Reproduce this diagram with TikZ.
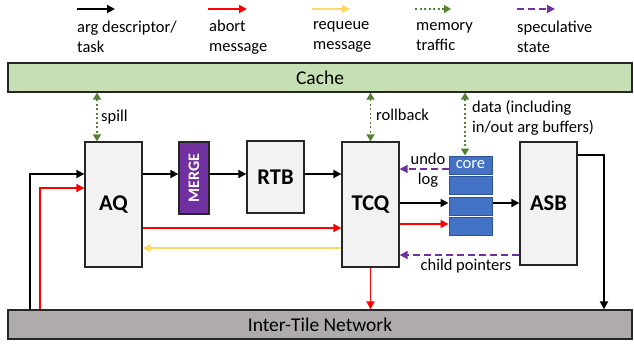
\documentclass[tikz,border=0pt]{standalone}
\usepackage{fontspec}
\setmainfont{Carlito}
\usetikzlibrary{arrows.meta}
\definecolor{cachegreen}{HTML}{C5E0B4}
\definecolor{netgray}{HTML}{AFABAB}
\definecolor{boxgray}{HTML}{F2F2F2}
\definecolor{mpurple}{HTML}{7030A0}
\definecolor{coreblue}{HTML}{4472C4}
\definecolor{coreedge}{HTML}{2F5597}
\definecolor{ayellow}{HTML}{FFD966}
\definecolor{agreen}{HTML}{548235}
\definecolor{ared}{HTML}{FF0000}
\begin{document}
\begin{tikzpicture}[x=1pt,y=-1pt,
  font=\fontsize{16.5}{19}\selectfont,
  box/.style={draw=black!85,line width=1.3pt,fill=boxgray,inner sep=0pt},
  big/.style={font=\fontsize{22.5}{24}\selectfont\bfseries},
  bar/.style={draw=black!85,line width=1.3pt,inner sep=0pt,minimum width=624pt,minimum height=29pt,font=\fontsize{19.5}{22}\selectfont},
  corebox/.style={draw=coreedge,line width=1pt,fill=coreblue,inner sep=0pt,minimum width=43pt,minimum height=18pt,text=white},
  tip/.style={-{Triangle[length=8pt,width=8pt]}},
  blk/.style={tip,line width=1.8pt,black},
  abortarr/.style={tip,line width=1.8pt,ared},
  requeuearr/.style={tip,line width=1.8pt,ayellow},
  memarr/.style={{Triangle[length=7pt,width=8pt]}-{Triangle[length=7pt,width=8pt]},line width=1.8pt,agreen,dash pattern=on 2pt off 2.5pt},
  memone/.style={-{Triangle[length=7pt,width=8pt]},line width=1.8pt,agreen,dash pattern=on 2pt off 2.5pt},
  specarr/.style={tip,line width=1.8pt,mpurple,dash pattern=on 7pt off 4pt},
  txt/.style={inner sep=0pt},
  legtxt/.style={inner sep=0pt,anchor=west,align=left,font=\fontsize{16.5}{20}\selectfont}
]
\useasboundingbox (0,0) rectangle (634,343);

% bars
\node[bar,fill=cachegreen] (cache) at (320,77.5) {Cache};
\node[bar,fill=netgray] (net) at (320,324.5) {Inter-Tile Network};

% boxes
\node[box,minimum width=57pt,minimum height=125pt,big] (aq) at (113.5,204.5) {AQ};
\node[draw=black!85,line width=1.3pt,fill=mpurple,inner sep=0pt,minimum width=30pt,minimum height=72pt] (merge) at (194,178) {};
\node[text=white,font=\fontsize{16}{17}\selectfont\bfseries,rotate=90,inner sep=0pt] (mergetxt) at (merge.center) {MERGE};
\node[box,minimum width=57pt,minimum height=72pt,big] (rtb) at (275.5,177) {RTB};
\node[box,minimum width=57pt,minimum height=125pt,big] (tcq) at (370.5,204.5) {TCQ};
\node[box,minimum width=57pt,minimum height=123pt,big] (asb) at (548.5,203.5) {ASB};

% cores
\node[corebox] (c1) at (470.5,165) {core};
\node[corebox] (c2) at (470.5,185) {};
\node[corebox] (c3) at (470.5,206) {};
\node[corebox] (c4) at (470.5,226) {};

% black arrows
\draw[blk] (net.north -| 30,0) |- (aq.west |- 0,174);
\draw[blk] (aq.east |- 0,174) -- (merge.west |- 0,174);
\draw[blk] (merge.east |- 0,174) -- (rtb.west |- 0,174);
\draw[blk] (rtb.east |- 0,174) -- (tcq.west |- 0,174);
\draw[blk] (tcq.east |- 0,203) -- (c3.west |- 0,203);
\draw[blk] (c3.east |- 0,203) -- (asb.west |- 0,203);
\draw[blk] (asb.east |- 0,155) -| (net.north -| 604,0);

% red arrows
\draw[abortarr] (net.north -| 40,0) |- (aq.west |- 0,188);
\draw[abortarr] (aq.east |- 0,228) -- (tcq.west |- 0,228);
\draw[abortarr] (tcq.east |- 0,224) -- (c4.west |- 0,224);
\draw[abortarr] (tcq.south) -- (tcq.south |- net.north);

% yellow
\draw[requeuearr] (tcq.west |- 0,248) -- (aq.east |- 0,248);

% purple
\draw[specarr] (c1.west |- 0,169) -- (tcq.east |- 0,169);
\draw[specarr] (asb.west |- 0,255) -- (tcq.east |- 0,255);

% green
\draw[memarr] (cache.south -| 97,0) -- (aq.north -| 97,0);
\draw[memarr] (cache.south -| tcq.north) -- (tcq.north);
\draw[memarr] (cache.south -| 465,0) -- (c1.north -| 465,0);

% labels
\node[txt,anchor=west] (spill) at (101,117) {spill};
\node[txt,anchor=west] (rollback) at (376,115) {rollback};
\node[txt,anchor=west,align=left,font=\fontsize{16.5}{19.5}\selectfont] (data) at (472,118) {data (including\\in/out arg buffers)};
\node[txt] (undo) at (428,159) {undo};
\node[txt] (log) at (428,180) {log};
\node[txt] (child) at (466,266) {child pointers};

% legend
\coordinate (l1a) at (77,9);  \coordinate (l1b) at (115,9);
\coordinate (l2a) at (208,9); \coordinate (l2b) at (247,9);
\coordinate (l3a) at (312,9); \coordinate (l3b) at (350,9);
\coordinate (l4a) at (415,9); \coordinate (l4b) at (451,9);
\coordinate (l5a) at (517,9); \coordinate (l5b) at (555,9);
\draw[blk] (l1a) -- (l1b);
\draw[abortarr] (l2a) -- (l2b);
\draw[requeuearr] (l3a) -- (l3b);
\draw[memone] (l4a) -- (l4b);
\draw[specarr] (l5a) -- (l5b);
\node[legtxt] (t1) at (77,37) {arg descriptor/\\task};
\node[legtxt] (t2) at (209,37) {abort\\message};
\node[legtxt] (t3) at (313,37) {requeue\\message};
\node[legtxt] (t4) at (416,37) {memory\\traffic};
\node[legtxt] (t5) at (517,37) {speculative\\state};
\end{tikzpicture}
\end{document}
